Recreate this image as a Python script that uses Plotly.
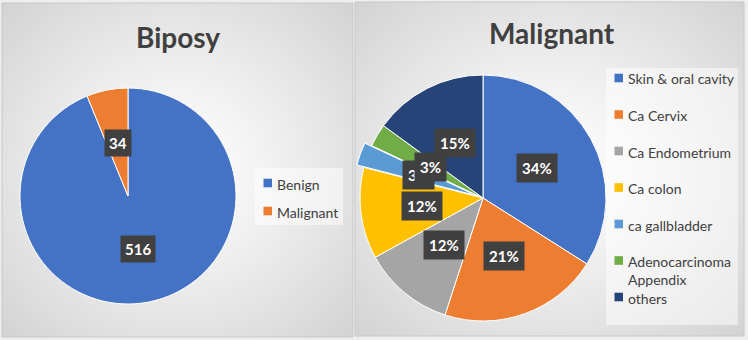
import base64
import math
import struct
import zlib

import numpy as np
import plotly.graph_objects as go

W, H = 748, 340

# ---- data -------------------------------------------------------------
biopsy_labels = ["Benign", "Malignant"]
biopsy_counts = [516, 34]
biopsy_colors = ["#4472C4", "#ED7D31"]

malignant_labels = [
    "Skin & oral cavity",
    "Ca Cervix",
    "Ca Endometrium",
    "Ca colon",
    "ca gallbladder",
    "Adenocarcinoma Appendix",
    "others",
]
malignant_share = [34, 21, 12, 12, 3, 3, 15]
malignant_colors = ["#4472C4", "#ED7D31", "#A5A5A5", "#FFC000",
                    "#5B9BD5", "#70AD47", "#264478"]
malignant_pull = [0, 0, 0, 0, 0.06, 0, 0]

FONT = "Lato"
TEXT_DARK = "#404040"


# ---- helpers ------------------------------------------------------------
def px(x):
    return x / W


def py(y):
    return 1 - y / H


def png_uri(arr):
    """Encode an HxWx3 uint8 array as a PNG data URI."""
    h, w, _ = arr.shape
    raw = b"".join(b"\x00" + arr[i].tobytes() for i in range(h))

    def chunk(tag, data):
        return (struct.pack(">I", len(data)) + tag + data
                + struct.pack(">I", zlib.crc32(tag + data) & 0xFFFFFFFF))

    png = (b"\x89PNG\r\n\x1a\n"
           + chunk(b"IHDR", struct.pack(">IIBBBBB", w, h, 8, 2, 0, 0, 0))
           + chunk(b"IDAT", zlib.compress(raw, 9))
           + chunk(b"IEND", b""))
    return "data:image/png;base64," + base64.b64encode(png).decode()


def radial_panel(w, h):
    """Soft white-to-grey radial fill used behind each chart panel."""
    yy, xx = np.mgrid[0:h, 0:w].astype(float)
    dx = (xx - (w - 1) / 2) / (w / 2)
    dy = (yy - (h - 1) / 2) / (h / 2)
    d = np.clip(np.sqrt(dx ** 2 + dy ** 2) / math.sqrt(2), 0, 1)
    v = np.clip(255 - 44 * d ** 1.2, 0, 255).astype(np.uint8)
    return np.dstack([v, v, v])


def pie_domain(cx, cy, r, pull):
    half = r * (1 + pull)
    return dict(x=[px(cx - half), px(cx + half)],
                y=[py(cy + half), py(cy - half)])


def slice_label_annotations(values, texts, cx, cy, r, pulls, size, pad):
    total = float(sum(values))
    start = 0.0
    out = []
    for v, t, p in zip(values, texts, pulls):
        mid = (start + v / 2) / total * 2 * math.pi
        d = r * (0.5 + p)
        x = cx + d * math.sin(mid)
        y = cy - d * math.cos(mid)
        out.append(dict(
            x=px(x), y=py(y), xref="paper", yref="paper",
            text=t, showarrow=False, xanchor="center", yanchor="middle",
            bgcolor="#404040", borderpad=pad,
            font=dict(family=FONT, size=size, color="white", weight="bold"),
        ))
        start += v
    return out


def wrap(label, width=18):
    if len(label) <= width:
        return label
    head, _, tail = label.rpartition(" ")
    return head + "<br>" + tail


def legend_items(labels, colors, x_marker, y_first, step, box):
    shapes, annos = [], []
    bx0, by0, bx1, by1 = box
    shapes.append(dict(type="rect", xref="paper", yref="paper",
                       x0=px(bx0), x1=px(bx1), y0=py(by1), y1=py(by0),
                       fillcolor="rgba(255,255,255,0.5)", line=dict(width=0),
                       layer="below"))
    for i, (lab, col) in enumerate(zip(labels, colors)):
        yc = y_first + i * step
        shapes.append(dict(type="rect", xref="paper", yref="paper",
                           x0=px(x_marker), x1=px(x_marker + 8.5),
                           y0=py(yc + 4.3), y1=py(yc - 4.3),
                           fillcolor=col, line=dict(width=0)))
        annos.append(dict(x=px(x_marker + 11), y=py(yc - 9.5),
                          xref="paper", yref="paper", text=wrap(lab),
                          showarrow=False, xanchor="left", yanchor="top",
                          align="left",
                          font=dict(family=FONT, size=14, color=TEXT_DARK)))
    return shapes, annos


# ---- panel geometry (pixels) ----------------------------------------------
left_panel = (2, 3, 353, 337)
right_panel = (355, 2, 744, 336)
left_pie = dict(cx=128, cy=196, r=108)
right_pie = dict(cx=483, cy=198, r=123)

fig = go.Figure()

fig.add_trace(go.Pie(
    labels=biopsy_labels, values=biopsy_counts, sort=False,
    direction="clockwise", rotation=0, textinfo="none",
    marker=dict(colors=biopsy_colors, line=dict(color="white", width=1)),
    domain=pie_domain(left_pie["cx"], left_pie["cy"], left_pie["r"], 0),
    showlegend=False, name="Biposy",
))

fig.add_trace(go.Pie(
    labels=malignant_labels, values=malignant_share, sort=False,
    direction="clockwise", rotation=0, textinfo="none",
    pull=malignant_pull,
    marker=dict(colors=malignant_colors, line=dict(color="white", width=1)),
    domain=pie_domain(right_pie["cx"], right_pie["cy"], right_pie["r"],
                      max(malignant_pull)),
    showlegend=False, name="Malignant",
))

shapes, annotations, images = [], [], []

for (x0, y0, x1, y1) in (left_panel, right_panel):
    w, h = x1 - x0, y1 - y0
    images.append(dict(source=png_uri(radial_panel(w // 2, h // 2)),
                       xref="paper", yref="paper",
                       x=px(x0), y=py(y0), sizex=w / W, sizey=h / H,
                       xanchor="left", yanchor="top", sizing="stretch",
                       layer="below"))
    shapes.append(dict(type="rect", xref="paper", yref="paper",
                       x0=px(x0), x1=px(x1), y0=py(y1), y1=py(y0),
                       line=dict(color="#C8C8C8", width=1), layer="below"))

# chart titles
for title, (tx, ty) in (("Biposy", (178, 37)), ("Malignant", (552, 33))):
    annotations.append(dict(x=px(tx), y=py(ty), xref="paper", yref="paper",
                            text=title, showarrow=False,
                            xanchor="center", yanchor="middle",
                            font=dict(family=FONT, size=28, color=TEXT_DARK,
                                      weight="bold")))

# slice value labels
annotations += slice_label_annotations(
    biopsy_counts, [str(v) for v in biopsy_counts],
    left_pie["cx"], left_pie["cy"], left_pie["r"], [0, 0], 15, 4)

total_share = sum(malignant_share)
annotations += slice_label_annotations(
    malignant_share,
    ["%d%%" % round(v * 100 / total_share) for v in malignant_share],
    right_pie["cx"], right_pie["cy"], right_pie["r"], malignant_pull, 15, 5)

# legends
s, a = legend_items(biopsy_labels, biopsy_colors, 263.5, 183, 28,
                    (255, 168, 343, 225))
shapes += s
annotations += a
s, a = legend_items(malignant_labels, malignant_colors, 614.5, 78, 36.5,
                    (606, 68, 738, 325))
shapes += s
annotations += a

fig.update_layout(
    width=W, height=H,
    margin=dict(l=0, r=0, t=0, b=0),
    paper_bgcolor="#EEEEEE",
    plot_bgcolor="#EEEEEE",
    shapes=shapes, annotations=annotations, images=images,
)

fig.write_html("out.html")
